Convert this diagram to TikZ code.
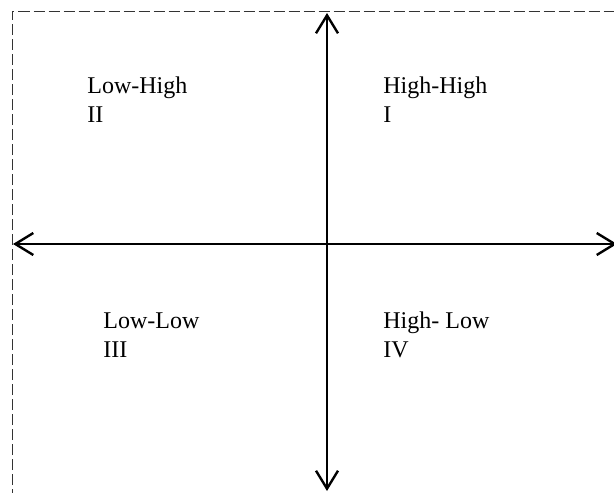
\documentclass[tikz,border=0pt]{standalone}
\usepackage{fontspec}
\setmainfont{Liberation Serif}
\usetikzlibrary{arrows.meta}
\begin{document}
\begin{tikzpicture}[x=0.5pt,y=-0.5pt,
  axis/.style={line width=1.2pt,{Straight Barb[length=9pt,width=11pt,line width=1.2pt]}-{Straight Barb[length=9pt,width=11pt,line width=1.2pt]}},
  frame/.style={line width=0.5pt,draw=black!80,dash pattern=on 5.5pt off 2pt},
  lbl/.style={anchor=base west,inner sep=0pt,align=left,font=\fontsize{12}{14.5}\selectfont}]
\useasboundingbox (0,0) rectangle (614,492);
\draw[frame] (12,500) -- (12,11.5) -- (620,11.5);
\coordinate (L) at (13,244);
\coordinate (R) at (617,244);
\coordinate (T) at (327,13);
\coordinate (B) at (327,491);
\draw[axis] (L) -- (R);
\draw[axis] (B) -- (T);
\node[lbl] (q2) at (87,122) {Low-High\\II};
\node[lbl] (q1) at (383,122) {High-High\\I};
\node[lbl] (q3) at (103,357) {Low-Low\\III};
\node[lbl] (q4) at (383,357) {High- Low\\IV};
\end{tikzpicture}
\end{document}
